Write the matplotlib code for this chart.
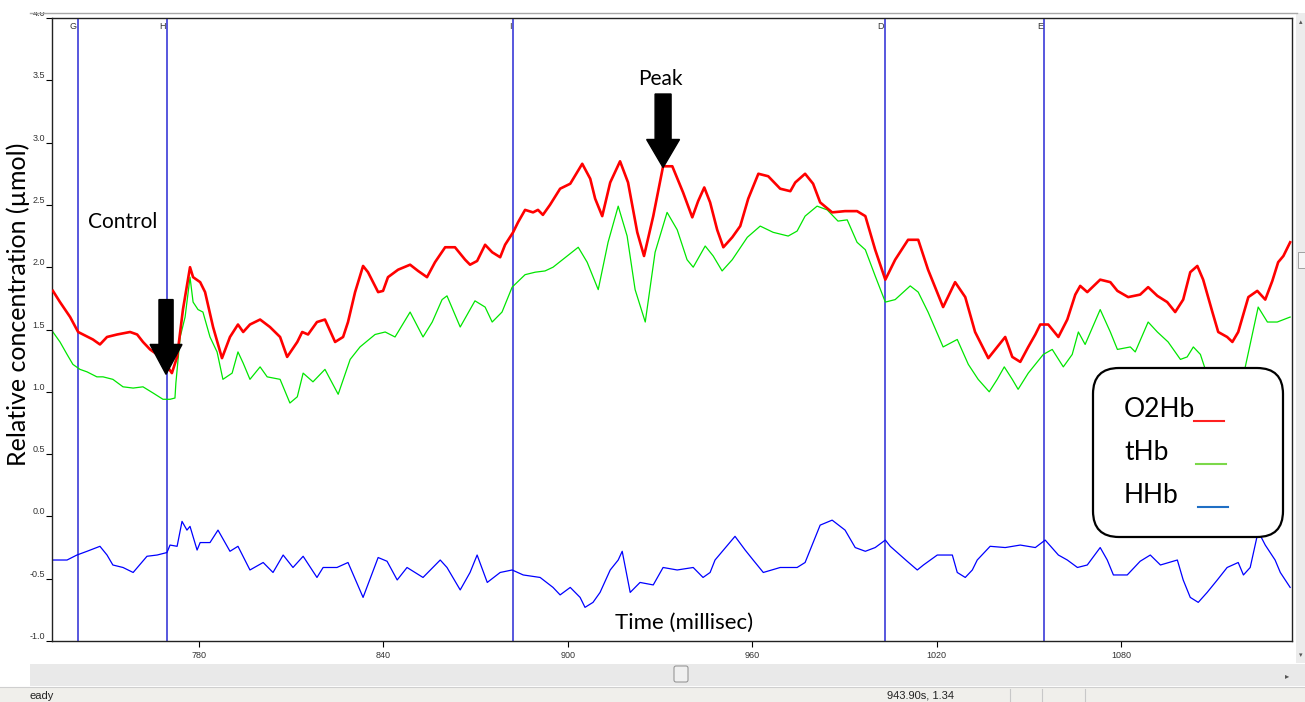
import matplotlib
matplotlib.use("Agg")
import matplotlib.pyplot as plt
from matplotlib.patches import FancyArrow, FancyBboxPatch, Rectangle

# O2Hb trace (time in ms, concentration in umol)
o2hb_t = [732.5, 734.8, 738.1, 740.7, 742.3, 745.5, 747.8, 750.1, 753.4, 757.6,
          759.9, 761.8, 764.1, 766.4, 769.0, 771.2, 772.9, 774.8, 777.1, 778.1,
          780.4, 782.0, 784.6, 787.5, 790.1, 792.7, 794.4, 796.6, 799.9, 803.1,
          806.4, 808.7, 812.0, 813.6, 815.5, 818.4, 821.0, 824.3, 826.9, 828.5,
          830.8, 833.4, 835.0, 838.3, 839.9, 841.5, 844.8, 848.7, 851.3, 854.2,
          856.8, 860.1, 863.3, 866.6, 868.2, 870.5, 873.1, 875.4, 878.0, 879.6,
          882.2, 883.8, 886.1, 888.7, 890.3, 891.9, 894.2, 897.5, 900.8, 904.7,
          907.3, 908.9, 911.2, 913.8, 917.0, 919.6, 922.6, 924.8, 927.8, 931.0,
          934.0, 937.5, 940.5, 942.4, 944.4, 946.3, 948.6, 950.6, 953.5, 956.1,
          958.7, 962.0, 965.2, 969.1, 972.4, 974.0, 977.2, 979.8, 982.1, 986.0,
          990.2, 994.1, 996.8, 1000.0, 1003.3, 1006.5, 1010.7, 1014.0, 1017.2, 1022.1,
          1026.0, 1029.3, 1032.5, 1036.8, 1039.7, 1042.3, 1044.6, 1047.2, 1049.8, 1052.1,
          1053.7, 1056.3, 1059.6, 1062.5, 1065.1, 1066.7, 1069.0, 1073.2, 1076.5, 1078.8,
          1082.3, 1086.2, 1088.8, 1091.8, 1095.0, 1097.6, 1100.2, 1102.5, 1104.8, 1106.7,
          1109.7, 1111.6, 1114.5, 1116.2, 1118.1, 1121.4, 1124.3, 1126.9, 1129.2, 1131.1,
          1132.8, 1135.0]
o2hb = [1.81, 1.72, 1.60, 1.48, 1.46, 1.42, 1.38, 1.44, 1.46, 1.48,
        1.46, 1.40, 1.34, 1.30, 1.23, 1.15, 1.28, 1.66, 2.00, 1.92,
        1.88, 1.80, 1.52, 1.27, 1.44, 1.54, 1.48, 1.54, 1.58, 1.52,
        1.44, 1.28, 1.40, 1.48, 1.46, 1.56, 1.58, 1.40, 1.44, 1.56,
        1.80, 2.01, 1.96, 1.80, 1.81, 1.92, 1.98, 2.02, 1.97, 1.92,
        2.04, 2.16, 2.16, 2.06, 2.02, 2.05, 2.18, 2.12, 2.08, 2.18,
        2.28, 2.36, 2.46, 2.44, 2.46, 2.42, 2.50, 2.63, 2.67, 2.83,
        2.71, 2.55, 2.41, 2.68, 2.85, 2.68, 2.28, 2.09, 2.41, 2.81,
        2.81, 2.60, 2.40, 2.53, 2.64, 2.52, 2.30, 2.16, 2.24, 2.33,
        2.55, 2.75, 2.73, 2.63, 2.61, 2.68, 2.75, 2.67, 2.52, 2.44,
        2.45, 2.45, 2.41, 2.14, 1.90, 2.06, 2.22, 2.22, 1.98, 1.68,
        1.88, 1.76, 1.48, 1.27, 1.36, 1.44, 1.28, 1.24, 1.36, 1.46,
        1.54, 1.54, 1.44, 1.58, 1.78, 1.85, 1.80, 1.90, 1.88, 1.81,
        1.76, 1.78, 1.84, 1.77, 1.72, 1.64, 1.74, 1.96, 2.01, 1.90,
        1.64, 1.48, 1.44, 1.40, 1.48, 1.76, 1.81, 1.74, 1.89, 2.04,
        2.09, 2.20]

# tHb trace
thb_t = [732.5, 734.8, 737.1, 739.0, 741.3, 743.6, 746.8, 748.8, 752.0, 755.3,
         758.6, 761.8, 765.1, 768.3, 770.6, 772.2, 772.5, 773.9, 775.5, 777.1,
         778.1, 779.7, 781.3, 783.6, 785.9, 787.8, 790.8, 792.7, 794.4, 796.6,
         799.9, 802.2, 806.4, 809.6, 812.0, 813.9, 817.1, 821.0, 825.3, 829.2,
         832.4, 837.3, 840.6, 843.8, 848.7, 852.9, 855.9, 859.1, 860.7, 865.0,
         869.8, 873.1, 875.4, 878.6, 881.9, 886.1, 889.4, 892.6, 895.2, 899.8,
         903.4, 906.3, 909.9, 913.1, 916.4, 919.3, 921.9, 925.2, 928.4, 932.3,
         935.6, 938.8, 940.8, 944.7, 947.3, 950.2, 953.5, 958.4, 962.6, 966.8,
         971.7, 974.6, 977.2, 981.1, 984.4, 987.9, 990.9, 994.1, 996.8, 1000.0,
         1003.3, 1006.5, 1011.4, 1014.0, 1017.2, 1022.1, 1026.7, 1030.3, 1033.5, 1037.1,
         1039.7, 1042.0, 1044.6, 1046.5, 1049.8, 1052.1, 1054.7, 1057.6, 1061.2, 1064.1,
         1066.1, 1068.3, 1073.2, 1076.5, 1078.8, 1083.0, 1084.6, 1088.8, 1091.8, 1095.3,
         1099.3, 1101.5, 1103.5, 1105.8, 1107.4, 1110.6, 1114.9, 1118.1, 1120.4, 1124.6,
         1127.6, 1130.8, 1135.0]
thb = [1.48, 1.40, 1.30, 1.22, 1.18, 1.16, 1.12, 1.12, 1.10, 1.04,
       1.03, 1.04, 0.99, 0.94, 0.94, 0.95, 1.07, 1.44, 1.60, 1.92,
       1.72, 1.66, 1.64, 1.44, 1.32, 1.10, 1.15, 1.32, 1.23, 1.10,
       1.20, 1.12, 1.10, 0.91, 0.96, 1.15, 1.08, 1.18, 0.98, 1.26,
       1.36, 1.46, 1.48, 1.44, 1.64, 1.44, 1.56, 1.74, 1.77, 1.52,
       1.73, 1.68, 1.56, 1.64, 1.84, 1.94, 1.96, 1.97, 2.00, 2.09,
       2.16, 2.04, 1.82, 2.20, 2.49, 2.25, 1.82, 1.56, 2.12, 2.44,
       2.30, 2.06, 2.00, 2.17, 2.09, 1.97, 2.06, 2.24, 2.33, 2.28,
       2.25, 2.29, 2.41, 2.49, 2.46, 2.37, 2.38, 2.20, 2.14, 1.93,
       1.72, 1.74, 1.85, 1.80, 1.64, 1.36, 1.42, 1.22, 1.10, 1.00,
       1.10, 1.20, 1.10, 1.02, 1.15, 1.22, 1.30, 1.34, 1.20, 1.30,
       1.48, 1.38, 1.66, 1.48, 1.34, 1.36, 1.32, 1.56, 1.48, 1.40,
       1.26, 1.28, 1.36, 1.30, 1.18, 1.10, 1.03, 1.06, 1.20, 1.68,
       1.56, 1.56, 1.60]

# HHb trace
hhb_t = [732.5, 737.1, 740.3, 743.6, 747.8, 750.1, 752.0, 755.3, 758.6, 763.1,
         766.4, 769.6, 770.6, 772.9, 774.5, 776.1, 777.1, 779.4, 780.4, 783.6,
         786.2, 790.1, 792.7, 796.6, 800.9, 804.1, 807.4, 810.6, 813.9, 818.4,
         820.4, 824.9, 828.5, 833.4, 838.3, 841.2, 844.5, 847.7, 852.9, 858.5,
         860.7, 865.0, 868.2, 870.5, 873.8, 878.0, 881.9, 885.5, 891.0, 895.2,
         897.5, 900.8, 904.0, 905.6, 908.2, 910.5, 913.8, 916.4, 917.7, 920.3,
         923.5, 927.8, 931.0, 935.6, 940.8, 944.0, 946.3, 947.9, 954.4, 957.7,
         960.3, 963.6, 969.1, 974.6, 977.2, 982.1, 986.0, 990.2, 993.5, 996.8,
         1000.0, 1003.3, 1004.9, 1010.4, 1013.7, 1015.7, 1020.2, 1025.1, 1026.7, 1029.3,
         1031.6, 1033.2, 1037.4, 1042.3, 1047.2, 1052.1, 1055.3, 1059.6, 1062.5, 1065.8,
         1069.0, 1073.2, 1075.5, 1077.5, 1082.0, 1086.2, 1089.5, 1092.8, 1098.3, 1100.2,
         1102.5, 1105.1, 1108.0, 1111.3, 1114.5, 1118.1, 1119.8, 1122.0, 1124.6, 1126.9,
         1130.1, 1131.8, 1135.0]
hhb = [-0.35, -0.35, -0.31, -0.28, -0.24, -0.31, -0.39, -0.41, -0.45, -0.32,
       -0.31, -0.29, -0.23, -0.24, -0.04, -0.11, -0.08, -0.27, -0.21, -0.21,
       -0.11, -0.28, -0.24, -0.43, -0.37, -0.45, -0.31, -0.41, -0.32, -0.49,
       -0.41, -0.41, -0.37, -0.65, -0.33, -0.36, -0.51, -0.41, -0.49, -0.35,
       -0.41, -0.59, -0.45, -0.31, -0.53, -0.45, -0.43, -0.47, -0.49, -0.57,
       -0.63, -0.57, -0.65, -0.73, -0.69, -0.61, -0.43, -0.35, -0.28, -0.61,
       -0.53, -0.55, -0.41, -0.43, -0.41, -0.49, -0.45, -0.35, -0.16, -0.27,
       -0.35, -0.45, -0.41, -0.41, -0.37, -0.07, -0.03, -0.11, -0.25, -0.28,
       -0.25, -0.19, -0.24, -0.36, -0.43, -0.39, -0.31, -0.31, -0.45, -0.49,
       -0.43, -0.35, -0.24, -0.25, -0.23, -0.25, -0.19, -0.31, -0.35, -0.41,
       -0.39, -0.25, -0.35, -0.47, -0.47, -0.36, -0.31, -0.39, -0.35, -0.51,
       -0.65, -0.69, -0.61, -0.51, -0.41, -0.37, -0.47, -0.41, -0.12, -0.23,
       -0.35, -0.45, -0.57]

# event markers
marker_t = [740.7, 769.6, 882.2, 1003.3, 1055.0]
marker_labels = ["G", "H", "I", "D", "E"]

x_ticks = [780, 840, 900, 960, 1020, 1080]
y_ticks = [-1.0, -0.5, 0.0, 0.5, 1.0, 1.5, 2.0, 2.5, 3.0, 3.5, 4.0]

legend_names = ["O2Hb", "tHb", "HHb"]
legend_colors = ["#ff2020", "#7cd84a", "#1f6fc4"]

W, H = 1305, 702
ui_font = ["Lato", "DejaVu Sans"]
small_font = ["Liberation Sans", "DejaVu Sans"]

fig = plt.figure(figsize=(W / 100, H / 100), dpi=100)
fig.patch.set_facecolor("white")

ax = fig.add_axes([52 / W, 1 - 641 / H, (1292 - 52) / W, (641 - 18) / H])
ax.plot(thb_t, thb, color="#00e600", lw=0.9, zorder=2)
ax.plot(hhb_t, hhb, color="#0000ff", lw=0.9, zorder=2)
ax.plot(o2hb_t, o2hb, color="#ff0000", lw=1.9, zorder=3)

for t, lab in zip(marker_t, marker_labels):
    ax.axvline(t, color="#2a2ad4", lw=1.1, zorder=1)
    ax.text(t - 0.4, 3.97, lab, ha="right", va="top", fontsize=6.5,
            family=small_font, color="#333333")

ax.set_xlim(732.2, 1135.6)
ax.set_ylim(-1, 4)
ax.set_xticks(x_ticks)
ax.set_xticklabels([str(v) for v in x_ticks], family=small_font)
ax.set_yticks(y_ticks)
ax.set_yticklabels([f"{v:.1f}" for v in y_ticks], family=small_font)
for lbl in ax.get_yticklabels():
    lbl.set_verticalalignment("bottom")
ax.tick_params(direction="out", length=4, width=0.8, labelsize=6.5,
               labelcolor="#333333", pad=1)
ax.tick_params(axis="x", pad=3)
for sp in ax.spines.values():
    sp.set_color("#222222")
    sp.set_linewidth(1.0)

# annotations
ax.text(755.3, 2.36, "Control", fontsize=15, ha="center", va="center", family=ui_font)
ax.text(930.1, 3.51, "Peak", fontsize=15, ha="center", va="center", family=ui_font)
ax.text(937.9, -0.855, "Time (millisec)", fontsize=16, ha="center", va="center",
        family=ui_font)
ax.add_patch(FancyArrow(769.3, 1.74, 0, 1.14 - 1.74, width=4.6, head_width=10.4,
                        head_length=0.24, length_includes_head=True,
                        color="black", zorder=5))
ax.add_patch(FancyArrow(931.0, 3.39, 0, 2.80 - 3.39, width=5.2, head_width=10.7,
                        head_length=0.225, length_includes_head=True,
                        color="black", zorder=5))

# window chrome, legend box and y label drawn in pixel space
ui = fig.add_axes([0, 0, 1, 1])
ui.set_xlim(0, W)
ui.set_ylim(H, 0)
ui.axis("off")

ui.add_patch(Rectangle((0, 0), W, 12, fc="white", ec="none"))
ui.plot([30, 1297], [12.5, 12.5], color="#a8a8a8", lw=1.0)

# vertical scrollbar
ui.add_patch(Rectangle((1296, 13), 9, 650, fc="#ececec", ec="none"))
ui.add_patch(Rectangle((1298, 252), 7, 16, fc="#f6f6f6", ec="#a0a0a0", lw=0.7))
ui.text(1301, 22, "\u25b4", fontsize=5, ha="center", va="center", color="#555555")
ui.text(1301, 655, "\u25be", fontsize=5, ha="center", va="center", color="#555555")

# horizontal scrollbar
ui.add_patch(Rectangle((30, 664), 1275, 22, fc="#e9e9e9", ec="none"))
ui.add_patch(FancyBboxPatch((674, 666), 14, 16, boxstyle="round,pad=0,rounding_size=2",
                            fc="#f0f0f0", ec="#8c8c8c", lw=0.7))
ui.text(1287, 676, "\u25b8", fontsize=6, ha="center", va="center", color="#555555")

# status bar
ui.add_patch(Rectangle((0, 687), W, 15, fc="#f0efeb", ec="none"))
ui.plot([0, W], [687, 687], color="#cfcfcf", lw=0.8)
for sx in [1010, 1042, 1085]:
    ui.plot([sx, sx], [689, 702], color="#c8c8c8", lw=0.8)
ui.text(30, 696, "eady", fontsize=8, ha="left", va="center", family=small_font,
        color="#222222")
ui.text(887, 696, "943.90s, 1.34", fontsize=8, ha="left", va="center",
        family=small_font, color="#222222")

# y axis title
ui.text(18, 304, "Relative concentration (\u00b5mol)", rotation=90, fontsize=18,
        ha="center", va="center", family=ui_font)

# legend box
ui.add_patch(FancyBboxPatch((1093, 368), 190, 169, boxstyle="round,pad=0,rounding_size=26",
                            fc="white", ec="black", lw=1.6, zorder=5))
for i, (name, col) in enumerate(zip(legend_names, legend_colors)):
    base = 417 + i * 43
    ui.text(1124, base, name, fontsize=19, ha="left", va="baseline",
            family=ui_font, zorder=6)
    ui.plot([1194 + 2 * i, 1224 + 2 * i], [base + 4, base + 4], color=col,
            lw=1.5, zorder=6)

fig.savefig("out.png", dpi=100)
